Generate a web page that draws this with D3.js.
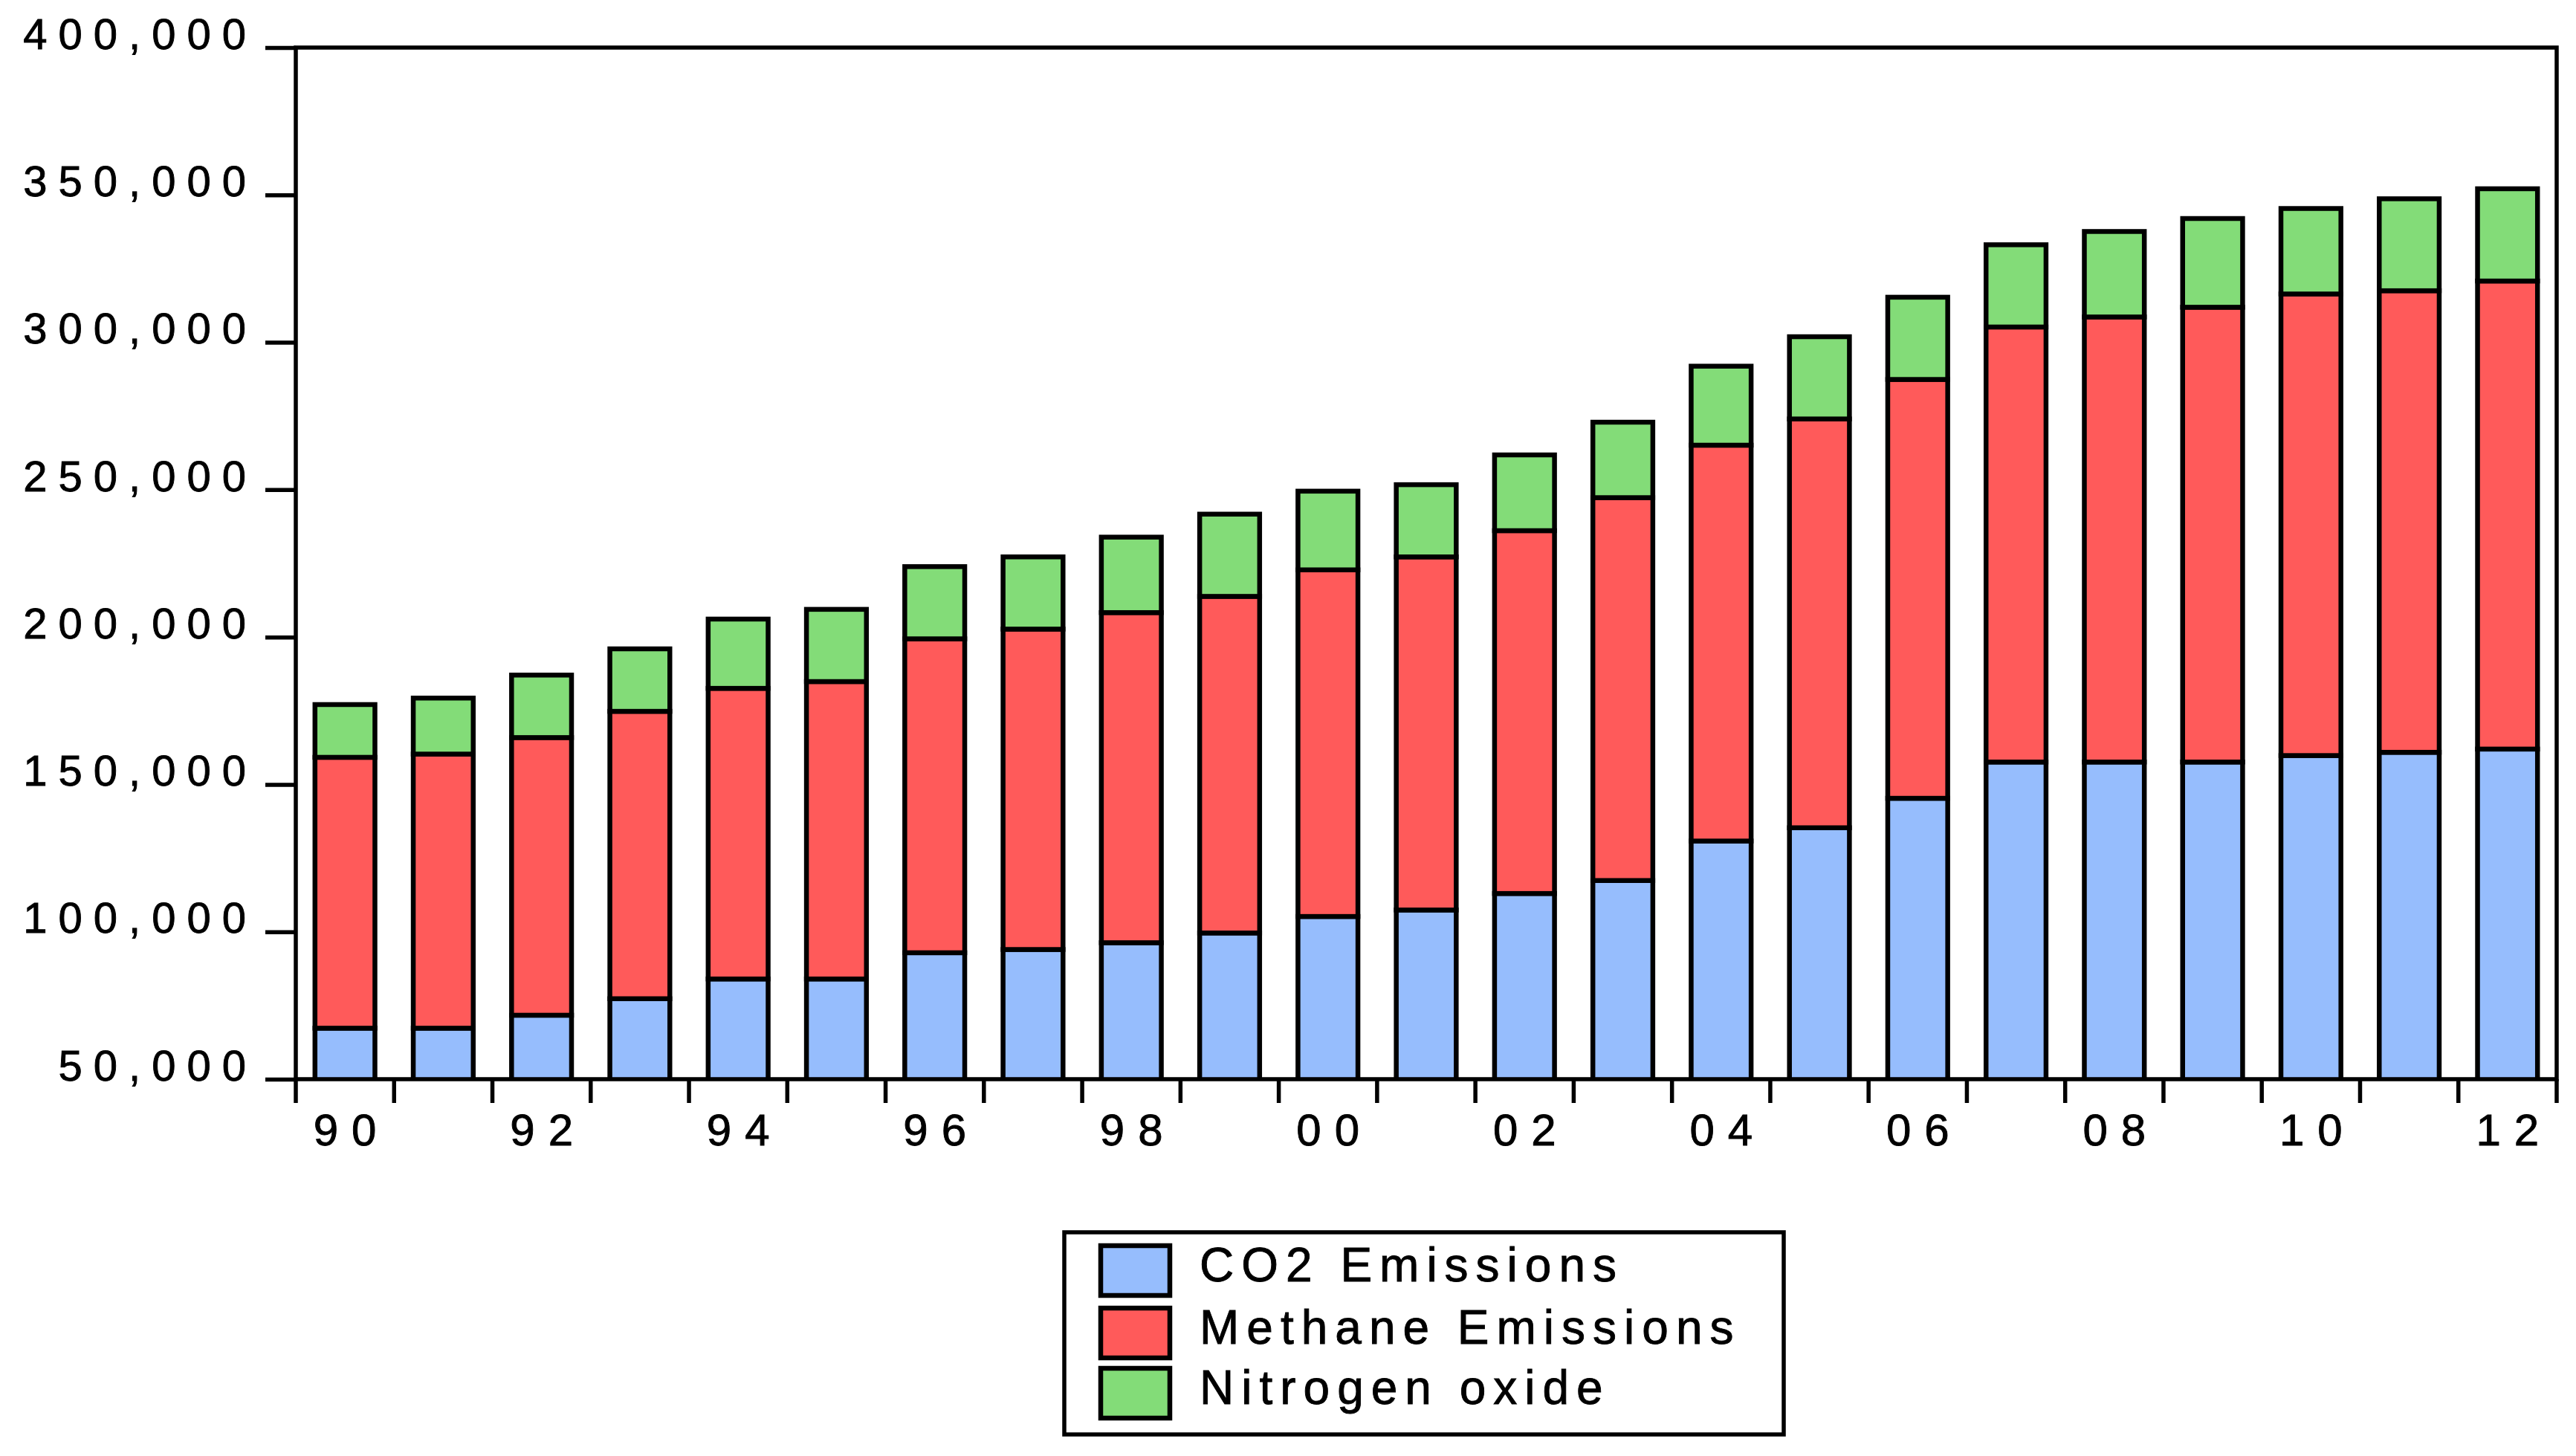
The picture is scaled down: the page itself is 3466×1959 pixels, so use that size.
<!DOCTYPE html>
<html>
<head>
<meta charset="utf-8">
<script src="https://cdn.jsdelivr.net/npm/d3@7"></script>
<style>
  body { margin: 0; background: #fff; }
  text { font-family: "Liberation Sans", Arial, sans-serif; fill: #000; stroke: #000; stroke-width: 0.9; }
</style>
</head>
<body>
<div id="chart"></div>
<script>
const years = d3.range(1990, 2013);
const co2 = [67300, 67300, 71700, 77300, 84000, 84000, 92900, 94000, 96300, 99600, 105200, 107400,
  113000, 117400, 130800, 135300, 145300, 157600, 157600, 157600, 159800, 160900, 162000];
const methane = [91900, 93000, 94200, 97500, 98600, 100900, 106500, 108700, 112000, 114200, 117600, 119800,
  123100, 129900, 134300, 138700, 142100, 147600, 151000, 154300, 156600, 156600, 158800];
const nitrogen = [17900, 19000, 21200, 21200, 23500, 24500, 24500, 24500, 25600, 27900, 26700, 24500,
  25700, 25600, 26800, 27900, 27900, 27900, 29000, 30100, 29000, 31200, 31300];
const seriesNames = ["CO2 Emissions", "Methane Emissions", "Nitrogen oxide"];
const seriesKeys = ["co2", "methane", "nitrogen"];
const colors = ["#96bdfd", "#ff5a5a", "#83dc78"];
const yTicks = [50000, 100000, 150000, 200000, 250000, 300000, 350000, 400000];

const W = 3466, H = 1959;
const plotL = 398, plotR = 3440, plotT = 64, plotB = 1452;

const rows = years.map((yr, i) => ({year: yr, co2: co2[i], methane: methane[i], nitrogen: nitrogen[i]}));
const stacked = d3.stack().keys(seriesKeys)(rows);

const x = d3.scaleBand().domain(years).range([plotL, plotR]).paddingInner(0.39).paddingOuter(0.195);
const y = d3.scaleLinear().domain([50000, 400000]).range([plotB, plotT]);

const svg = d3.select("#chart").append("svg")
  .attr("width", W).attr("height", H);

svg.append("clipPath").attr("id", "plotclip")
  .append("rect").attr("x", plotL).attr("y", plotT - 10).attr("width", plotR - plotL).attr("height", plotB - plotT + 10);

const bars = svg.append("g").attr("clip-path", "url(#plotclip)");
bars.selectAll("g.layer")
  .data(stacked)
  .enter()
  .append("g")
  .attr("class", "layer")
  .attr("fill", (d, i) => colors[i])
  .selectAll("rect")
  .data(d => d)
  .enter()
  .append("rect")
  .attr("x", d => x(d.data.year))
  .attr("y", d => y(d[1]))
  .attr("width", x.bandwidth())
  .attr("height", d => y(d[0]) - y(d[1]))
  .attr("stroke", "#000")
  .attr("stroke-width", 6.5);

// frame
svg.append("rect")
  .attr("x", plotL).attr("y", plotT)
  .attr("width", plotR - plotL).attr("height", plotB - plotT)
  .attr("fill", "none").attr("stroke", "#000").attr("stroke-width", 5.5);

// y axis
const yAxis = d3.axisLeft(y).tickValues(yTicks).tickSize(41).tickPadding(0)
  .tickFormat(d3.format(","));
const gy = svg.append("g").attr("transform", `translate(${plotL},0)`).call(yAxis);
gy.select(".domain").remove();
gy.selectAll(".tick line").attr("stroke", "#000").attr("stroke-width", 5.5);
gy.selectAll(".tick text")
  .attr("x", -52)
  .attr("dy", "0.02em")
  .attr("font-size", 58)
  .attr("letter-spacing", 15)
  .style("font-family", '"Liberation Sans", Arial, sans-serif');

// x axis: ticks between bars
const boundaries = years.map(yr => x(yr) - x.step() * x.paddingInner() / 2).concat([plotR]);
boundaries[0] = plotL;
svg.append("g").selectAll("line")
  .data(boundaries)
  .enter()
  .append("line")
  .attr("x1", d => d).attr("x2", d => d)
  .attr("y1", plotB).attr("y2", plotB + 32)
  .attr("stroke", "#000").attr("stroke-width", 5.5);

svg.append("g").selectAll("text")
  .data(years.filter(yr => yr % 2 === 0))
  .enter()
  .append("text")
  .attr("x", d => x(d) + x.bandwidth() / 2 + 9)
  .attr("y", 1541)
  .attr("text-anchor", "middle")
  .attr("font-size", 60)
  .attr("letter-spacing", 18)
  .text(d => String(d % 100).padStart(2, "0"));

// legend
const legend = svg.append("g");
legend.append("rect")
  .attr("x", 1432).attr("y", 1658).attr("width", 968).attr("height", 272)
  .attr("fill", "#fff").attr("stroke", "#000").attr("stroke-width", 5.5);
const swatchY = [1676, 1760, 1841];
const items = legend.selectAll("g.item")
  .data(seriesNames)
  .enter()
  .append("g")
  .attr("class", "item");
items.append("rect")
  .attr("x", 1481)
  .attr("y", (d, i) => swatchY[i])
  .attr("width", 93).attr("height", 67)
  .attr("fill", (d, i) => colors[i])
  .attr("stroke", "#000").attr("stroke-width", 6.5);
items.append("text")
  .attr("x", 1614)
  .attr("y", (d, i) => swatchY[i] + 48)
  .attr("font-size", 64)
  .attr("letter-spacing", 10)
  .text(d => d);
</script>
</body>
</html>
